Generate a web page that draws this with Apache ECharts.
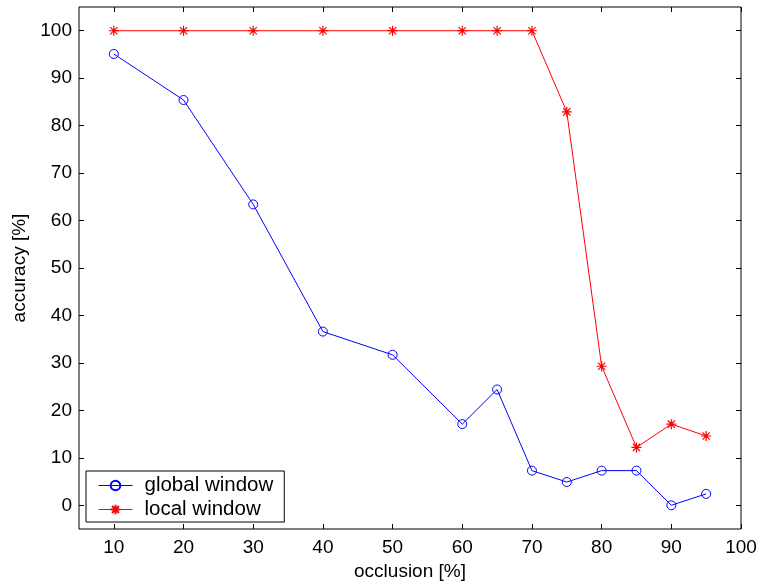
<!DOCTYPE html>
<html>
<head>
<meta charset="utf-8">
<script src="https://cdn.jsdelivr.net/npm/echarts@6/dist/echarts.min.js"></script>
<style>
  html, body { margin: 0; padding: 0; background: #fff; }
  #container { width: 763px; height: 582px; }
</style>
</head>
<body>
<div id="container"></div>
<script>
// occlusion levels
const occlusion = [10, 20, 30, 40, 50, 60, 65, 70, 75, 80, 85, 90, 95];
const globalWindow = [95.1, 85.4, 63.4, 36.6, 31.7, 17.1, 24.4, 7.3, 4.9, 7.3, 7.3, 0, 2.4];
const localWindow = [100, 100, 100, 100, 100, 100, 100, 100, 82.9, 29.3, 12.2, 17.1, 14.6];
const xTicks = [10, 20, 30, 40, 50, 60, 70, 80, 90, 100];
const yTicks = [0, 10, 20, 30, 40, 50, 60, 70, 80, 90, 100];

const font = 'Liberation Sans, Arial, Helvetica, sans-serif';
const asterisk = 'path://M0,-5L0,5M-5,0L5,0M-3.6,-3.6L3.6,3.6M-3.6,3.6L3.6,-3.6';
const ring = 'path://M0,-5A5,5,0,1,1,0,5A5,5,0,1,1,0,-5Z';

const dom = document.getElementById('container');
const myChart = echarts.init(dom, null, { renderer: 'canvas' });

function pairs(xs, ys) {
  return xs.map((x, i) => [x, ys[i]]);
}

const tickStyle = { show: true, inside: true, length: 5, lineStyle: { color: '#000', width: 1 } };

const option = {
  animation: false,
  grid: {
    left: 79, right: 22, top: 7, bottom: 53,
    outerBoundsMode: 'none',
    containLabel: false,
    show: true, borderColor: '#000', borderWidth: 1
  },
  legend: {
    orient: 'vertical',
    left: 86, top: 471,
    padding: [4, 11, 2, 12],
    itemWidth: 34, itemHeight: 12, itemGap: 3,
    borderColor: '#000', borderWidth: 1, backgroundColor: '#fff',
    lineStyle: { width: 1 },
    textStyle: { fontFamily: font, fontSize: 20.5, color: '#000', padding: [0, 0, 0, 7] },
    data: ['global window', 'local window']
  },
  xAxis: [
    {
      type: 'value', min: 5, max: 100,
      name: 'occlusion [%]', nameLocation: 'middle', nameGap: 32,
      nameTextStyle: { fontFamily: font, fontSize: 19, color: '#000' },
      axisLine: { show: false, onZero: false },
      axisTick: Object.assign({ customValues: xTicks }, tickStyle),
      axisLabel: { customValues: xTicks, fontFamily: font, fontSize: 19, color: '#000', margin: 9 },
      splitLine: { show: false }
    },
    {
      type: 'value', min: 5, max: 100, position: 'top',
      axisLine: { show: false, onZero: false },
      axisTick: Object.assign({ customValues: xTicks }, tickStyle),
      axisLabel: { show: false },
      splitLine: { show: false }
    }
  ],
  yAxis: [
    {
      type: 'value', min: -5, max: 105,
      name: 'accuracy [%]', nameLocation: 'middle', nameGap: 50,
      nameTextStyle: { fontFamily: font, fontSize: 19, color: '#000' },
      axisLine: { show: false, onZero: false },
      axisTick: Object.assign({ customValues: yTicks }, tickStyle),
      axisLabel: { customValues: yTicks, fontFamily: font, fontSize: 19, color: '#000', margin: 7 },
      splitLine: { show: false }
    },
    {
      type: 'value', min: -5, max: 105, position: 'right',
      axisLine: { show: false, onZero: false },
      axisTick: Object.assign({ customValues: yTicks }, tickStyle),
      axisLabel: { show: false },
      splitLine: { show: false }
    }
  ],
  series: [
    {
      name: 'global window',
      type: 'line',
      data: pairs(occlusion, globalWindow),
      symbol: ring,
      symbolSize: 9,
      lineStyle: { color: '#0000ff', width: 1 },
      itemStyle: { color: 'rgba(255,255,255,0)', borderColor: '#0000ff', borderWidth: 1 }
    },
    {
      name: 'local window',
      type: 'line',
      data: pairs(occlusion, localWindow),
      symbol: asterisk,
      symbolSize: 10,
      lineStyle: { color: '#ff0000', width: 1 },
      itemStyle: { color: '#ff0000', borderColor: '#ff0000', borderWidth: 1.2 }
    }
  ]
};

myChart.setOption(option);
window.addEventListener('resize', myChart.resize);
</script>
</body>
</html>
